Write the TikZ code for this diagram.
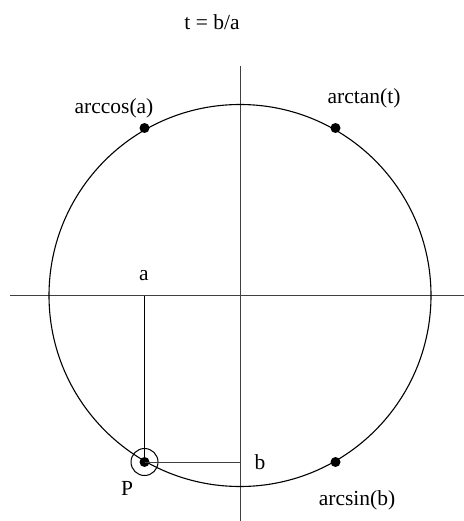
\documentclass[tikz,border=0pt]{standalone}
\usepackage{fontspec}
\setmainfont{Liberation Serif}
\begin{document}
\begin{tikzpicture}[x=1pt,y=-1pt,line width=1pt,
  dot/.style={circle,fill=black,inner sep=0pt,minimum size=10pt},
  lbl/.style={inner sep=0pt,font=\fontsize{21.5}{25}\selectfont},
  axisline/.style={draw=black!75,line width=1pt}]
\useasboundingbox (0,0) rectangle (463,521);
\coordinate (O) at (240,295.5);
\coordinate (L) at (10,295.5);
\coordinate (R) at (470,295.5);
\coordinate (T) at (240,66);
\coordinate (B) at (240,525);
\draw[axisline] (L) -- (R);
\draw[axisline] (T) -- (B);
\draw[line width=1.1pt] (O) circle[radius=191];
\node[dot] (P) at (144.5,462) {};
\node[dot] (acos) at (144.5,128) {};
\node[dot] (atan) at (335.5,128) {};
\node[dot] (asin) at (335.5,462) {};
\draw (P) circle[radius=13.5];
\draw (P.center) -- (P.center |- O);
\draw[black!75] (P.center) -- (O |- P.center);
\node[lbl] (tl) at (212,22) {t = b/a};
\node[lbl] (acosl) at (114,108) {arccos(a)};
\node[lbl] (atanl) at (364,98) {arctan(t)};
\node[lbl] (al) at (144,276) {a};
\node[lbl] (bl) at (260,462) {b};
\node[lbl] (Pl) at (127,488) {P};
\node[lbl] (asinl) at (357,500) {arcsin(b)};
\end{tikzpicture}
\end{document}
